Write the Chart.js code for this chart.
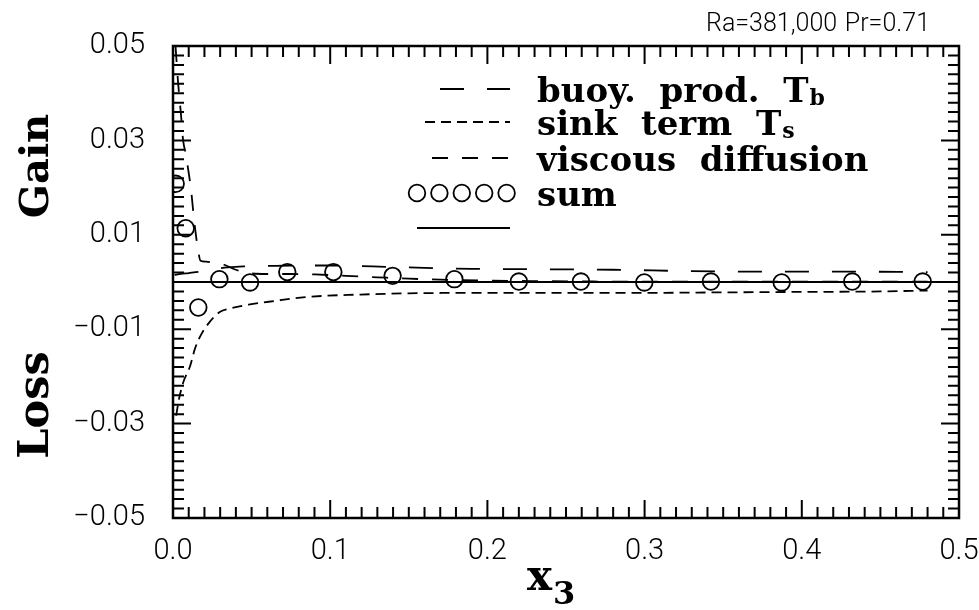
<!DOCTYPE html>
<html>
<head>
<meta charset="utf-8">
<script src="https://cdn.jsdelivr.net/npm/chart.js@4.4.1/dist/chart.umd.min.js"></script>
<style>
  html, body { margin: 0; padding: 0; background: #fff; overflow: hidden; }
  #wrap { width: 979px; height: 610px; position: relative; }
  #chart { display: block; }
</style>
</head>
<body>
<div id="wrap"><canvas id="chart"></canvas></div>
<script>
// budget terms against wall distance x3
const buoyX = [0.001, 0.005, 0.01, 0.017, 0.025, 0.035, 0.045, 0.06, 0.08, 0.1, 0.127, 0.16, 0.19, 0.23, 0.28, 0.33, 0.38, 0.43, 0.48];
const buoyY = [0.0015, 0.0017, 0.0019, 0.0022, 0.0027, 0.0031, 0.0033, 0.0034, 0.0035, 0.0035, 0.0033, 0.0030, 0.0028, 0.0027, 0.0026, 0.0023, 0.0022, 0.0022, 0.0021];

const sinkX = [0.002, 0.004, 0.0067, 0.0108, 0.014, 0.0178, 0.0235, 0.03, 0.035, 0.05, 0.065, 0.081, 0.098, 0.115, 0.15, 0.2, 0.25, 0.3, 0.35, 0.4, 0.45, 0.48];
const sinkY = [-0.0283, -0.0245, -0.0211, -0.0179, -0.0141, -0.0112, -0.0084, -0.0063, -0.0057, -0.0047, -0.0040, -0.0033, -0.0029, -0.0027, -0.0024, -0.0023, -0.0023, -0.0023, -0.0022, -0.0021, -0.0020, -0.0018];

const viscX = [0.0016, 0.0032, 0.0051, 0.0064, 0.0083, 0.0095, 0.0115, 0.0134, 0.0159, 0.0175, 0.021, 0.026, 0.033, 0.04, 0.048, 0.06, 0.075, 0.09, 0.11, 0.13, 0.15, 0.17, 0.2, 0.23, 0.27, 0.32, 0.38, 0.43, 0.48];
const viscY = [0.05, 0.0424, 0.0354, 0.0301, 0.0269, 0.0242, 0.0195, 0.0132, 0.0069, 0.0045, 0.0043, 0.0041, 0.0036, 0.0026, 0.0019, 0.0017, 0.0017, 0.0016, 0.0013, 0.001, 0.0007, 0.0005, 0.0003, 0.0002, 0.0001, 0.0001, 0.0001, 0.0001, 0.0001];

const sumX = [0.0017, 0.0081, 0.0161, 0.0295, 0.049, 0.0727, 0.102, 0.1397, 0.179, 0.22, 0.2595, 0.2998, 0.3422, 0.3872, 0.4321, 0.4769];
const sumY = [0.0208, 0.0114, -0.0054, 0.0006, -0.0001, 0.0021, 0.0021, 0.0013, 0.0006, 0.0001, 0.0001, -0.0001, 0.0001, -0.0001, 0.0001, 0.0001];

const zeroX = [0, 0.5];
const zeroY = [0, 0];

const xTicks = [0, 0.1, 0.2, 0.3, 0.4, 0.5];
const yTicks = [-0.05, -0.03, -0.01, 0.01, 0.03, 0.05];

const legendLabels = [
    ['buoy.  prod.  T', 'b'],
    ['sink  term  T', 's'],
    ['viscous  diffusion', ''],
    ['sum', ''],
    ['', '']
];
const titleLeft = 'Ra=381,000';
const titleRight = 'Pr=0.71';

const toPoints = (xs, ys) => xs.map((x, i) => ({ x: x, y: ys[i] }));

const tickFont = { family: 'Roboto, "DejaVu Sans", sans-serif', size: 29, weight: 300 };
const serifBold = (px) => `bold ${px}px "DejaVu Serif", serif`;

// frame + inward minor/major ticks on all four sides
const frameAndTicks = {
    id: 'frameAndTicks',
    afterDatasetsDraw(chart) {
        const { ctx, chartArea: a, scales: { x, y } } = chart;
        ctx.save();
        ctx.strokeStyle = '#000';
        ctx.lineWidth = 2;
        ctx.beginPath();
        for (let i = 0; i <= 50; i++) {
            const px = x.getPixelForValue(i * 0.01);
            const len = (i % 10 === 0) ? 18 : 11;
            ctx.moveTo(px, a.bottom); ctx.lineTo(px, a.bottom - len);
            ctx.moveTo(px, a.top); ctx.lineTo(px, a.top + len);
        }
        for (let i = 0; i <= 50; i++) {
            const py = y.getPixelForValue(-0.05 + i * 0.002);
            const len = (i % 10 === 0) ? 18 : 11;
            ctx.moveTo(a.left, py); ctx.lineTo(a.left + len, py);
            ctx.moveTo(a.right, py); ctx.lineTo(a.right - len, py);
        }
        ctx.stroke();
        ctx.lineWidth = 2.5;
        ctx.strokeRect(a.left, a.top, a.right - a.left, a.bottom - a.top);
        ctx.restore();
    }
};

function drawSub(ctx, x, y, main, sub, size, subSize, drop) {
    ctx.font = serifBold(size);
    ctx.fillText(main, x, y);
    if (!sub) return;
    const w = ctx.measureText(main).width;
    ctx.font = serifBold(subSize);
    ctx.fillText(sub, x + w + 1, y + drop);
}

// legend, axis words and title
const annotations = {
    id: 'annotations',
    afterDraw(chart) {
        const ctx = chart.ctx;
        const ds = chart.data.datasets;
        ctx.save();
        ctx.fillStyle = '#000';
        ctx.strokeStyle = '#000';
        ctx.textAlign = 'left';
        ctx.textBaseline = 'alphabetic';

        const rowY = [89, 122, 158, 193, 228];
        const startX = [440, 425, 432, 0, 417];
        for (let i = 0; i < legendLabels.length; i++) {
            const d = ds[i];
            const yy = rowY[i];
            if (d.showLine) {
                ctx.lineWidth = d.borderWidth;
                ctx.setLineDash(d.borderDash || []);
                ctx.beginPath();
                ctx.moveTo(startX[i], yy);
                ctx.lineTo(510, yy);
                ctx.stroke();
                ctx.setLineDash([]);
            } else {
                ctx.lineWidth = d.pointBorderWidth;
                for (let k = 0; k < 5; k++) {
                    ctx.beginPath();
                    ctx.arc(417 + k * 22.4, yy, d.pointRadius, 0, Math.PI * 2);
                    ctx.stroke();
                }
            }
            if (legendLabels[i][0])
                drawSub(ctx, 537, yy + 12.5, legendLabels[i][0], legendLabels[i][1], 34, 22, 3);
        }

        // y axis words
        ctx.textAlign = 'center';
        [['Gain', 166, 40], ['Loss', 405, 43]].forEach(([t, cy, px]) => {
            ctx.save();
            ctx.font = serifBold(px);
            ctx.translate(48, cy);
            ctx.rotate(-Math.PI / 2);
            ctx.fillText(t, 0, 0);
            ctx.restore();
        });

        // x axis title x3
        ctx.textAlign = 'left';
        drawSub(ctx, 527, 590, 'x', '3', 42, 32, 14);

        // run parameters
        ctx.font = '300 25px Roboto, "DejaVu Sans", sans-serif';
        ctx.fillText(titleLeft, 706, 31);
        ctx.textAlign = 'right';
        ctx.fillText(titleRight, 930, 31);
        ctx.restore();
    }
};

const lineSet = (data, dash) => ({
    data: data,
    showLine: true,
    borderColor: '#000',
    borderWidth: 1.8,
    borderDash: dash,
    pointRadius: 0,
    cubicInterpolationMode: 'monotone'
});

new Chart(document.getElementById('chart'), {
    type: 'scatter',
    data: {
        datasets: [
            lineSet(toPoints(buoyX, buoyY), [24, 23]),
            lineSet(toPoints(sinkX, sinkY), [10, 6]),
            lineSet(toPoints(viscX, viscY), [16, 14]),
            {
                data: toPoints(sumX, sumY),
                showLine: false,
                pointRadius: 8.3,
                pointBorderWidth: 1.8,
                pointBorderColor: '#000',
                pointBackgroundColor: 'rgba(0,0,0,0)'
            },
            lineSet(toPoints(zeroX, zeroY), [])
        ]
    },
    options: {
        responsive: true,
        maintainAspectRatio: false,
        animation: false,
        layout: { padding: { top: 46, right: 0, left: 0, bottom: 0 } },
        plugins: { legend: { display: false }, tooltip: { enabled: false } },
        scales: {
            x: {
                type: 'linear', min: 0, max: 0.5,
                grid: { display: false, drawTicks: false },
                border: { display: false },
                afterFit: s => { s.height = 92; s.paddingLeft = 0; s.paddingRight = 20; },
                afterBuildTicks: s => { s.ticks = xTicks.map(v => ({ value: v })); },
                ticks: {
                    callback: v => v.toFixed(1),
                    font: tickFont, color: '#000', padding: 16,
                    maxRotation: 0, autoSkip: false
                }
            },
            y: {
                type: 'linear', min: -0.05, max: 0.05,
                grid: { display: false, drawTicks: false },
                border: { display: false },
                afterFit: s => { s.width = 173; },
                afterBuildTicks: s => { s.ticks = yTicks.map(v => ({ value: v })); },
                ticks: {
                    callback: v => v.toFixed(2).replace('-', '\u2212'),
                    font: tickFont, color: '#000', padding: 28,
                    autoSkip: false
                }
            }
        }
    },
    plugins: [frameAndTicks, annotations]
});
</script>
</body>
</html>
